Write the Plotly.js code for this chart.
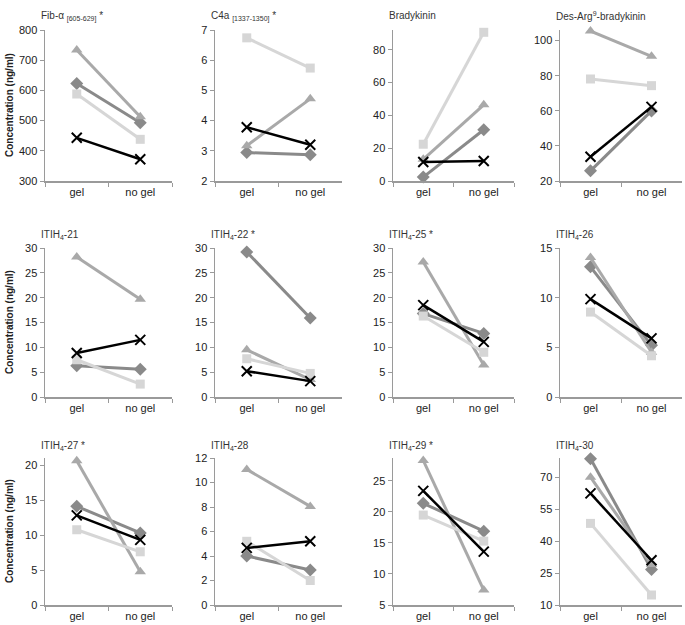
<!DOCTYPE html>
<html>
<head>
<meta charset="utf-8">
<script src="https://cdn.plot.ly/plotly-3.0.1.min.js"></script>
<style>html,body{margin:0;padding:0;background:#fff}#chart{width:685px;height:625px}</style>
</head>
<body>
<div id="chart"></div>
<script>
// ---- data ----
const categories = ['gel', 'no gel'];
const panelTitles = [
  'Fib-α <sub>[605-629]</sub> *', 'C4a <sub>[1337-1350]</sub> *', 'Bradykinin', 'Des-Arg<sup>9</sup>-bradykinin',
  'ITIH<sub>4</sub>-21', 'ITIH<sub>4</sub>-22 *', 'ITIH<sub>4</sub>-25 *', 'ITIH<sub>4</sub>-26',
  'ITIH<sub>4</sub>-27 *', 'ITIH<sub>4</sub>-28', 'ITIH<sub>4</sub>-29 *', 'ITIH<sub>4</sub>-30'
];
const diamondGel    = [623, 2.94, 2.4, 25.8, 6.3, 29.2, 16.8, 13.1, 14.1, 4.0, 21.4, 78.7];
const diamondNoGel  = [493, 2.87, 31.2, 59.9, 5.6, 15.9, 12.8, 5.2, 10.3, 2.86, 16.9, 26.7];
const triangleGel   = [734, 3.17, 13.2, 105.4, 28.2, 9.5, 27.2, 14.05, 20.6, 11.07, 28.3, 70];
const triangleNoGel = [513, 4.72, 46.4, 91, 19.7, 3.5, 6.45, 4.5, 4.75, 8.05, 7.4, 29];
const squareGel     = [588, 6.74, 22.4, 78.1, 7.5, 7.7, 16.3, 8.55, 10.75, 5.2, 19.5, 48.3];
const squareNoGel   = [438, 5.74, 90.6, 74.3, 2.6, 4.75, 9.0, 4.15, 7.6, 2.0, 15.3, 14.7];
const crossGel      = [443, 3.78, 11.6, 33.8, 8.86, 5.2, 18.5, 9.85, 12.8, 4.66, 23.4, 62.4];
const crossNoGel    = [372, 3.2, 12.2, 62.2, 11.5, 3.2, 11.1, 5.9, 9.3, 5.2, 13.6, 31];
const yMin  = [300, 2, 0, 20, 0, 0, 0, 0, 0, 0, 5, 10];
const yMax  = [800, 7, 92, 106, 30, 30, 30, 15, 21, 12, 28.7, 79];
const yStep = [100, 1, 20, 20, 5, 5, 5, 5, 5, 2, 5, 15];
const yAxisTitle = 'Concentration (ng/ml)';

// ---- layout geometry (pixels) ----
const W = 685, H = 625;
const colX = [[45, 172], [215, 342], [393, 514], [560, 682]];
const rowY = [[30, 181], [248, 397], [458, 605]];
const titleY = [8, 227, 438];

const series = [
  {gel: diamondGel, nogel: diamondNoGel, color: '#8a8a8a', symbol: 'diamond', size: 10, lw: 3},
  {gel: triangleGel, nogel: triangleNoGel, color: '#a9a9a9', symbol: 'triangle-up', size: 10, lw: 3},
  {gel: squareGel, nogel: squareNoGel, color: '#d6d6d6', symbol: 'square', size: 9, lw: 3},
  {gel: crossGel, nogel: crossNoGel, color: '#000000', symbol: 'x-thin', size: 10, lw: 2.5}
];

const traces = [];
const layout = {
  width: W, height: H,
  margin: {l: 0, r: 0, t: 0, b: 0},
  paper_bgcolor: '#fff', plot_bgcolor: '#fff',
  showlegend: false,
  font: {family: 'Liberation Sans, Arial, sans-serif', size: 11, color: '#222'},
  annotations: []
};

for (let i = 0; i < 12; i++) {
  const r = Math.floor(i / 4), c = i % 4;
  const n = i === 0 ? '' : String(i + 1);
  const xa = 'x' + n, ya = 'y' + n;
  series.forEach(s => {
    traces.push({
      type: 'scatter', mode: 'lines+markers',
      x: categories, y: [s.gel[i], s.nogel[i]],
      xaxis: xa, yaxis: ya,
      line: {color: s.color, width: s.lw},
      marker: s.symbol === 'x-thin'
        ? {symbol: 'x-thin', size: s.size, color: s.color, line: {color: s.color, width: 2}}
        : {symbol: s.symbol, size: s.size, color: s.color},
      hoverinfo: 'skip', cliponaxis: false
    });
  });
  const tv = [];
  for (let v = yMin[i]; v <= yMax[i] + 1e-9; v += yStep[i]) tv.push(v);
  layout['xaxis' + n] = {
    domain: [colX[c][0] / W, colX[c][1] / W], anchor: ya,
    type: 'category', range: [-0.5, 1.5], fixedrange: true,
    showline: true, linecolor: '#9a9a9a', linewidth: 1.5,
    ticks: 'outside', tickson: 'boundaries', ticklen: 4, tickcolor: '#9a9a9a',
    showgrid: false, zeroline: false,
    tickfont: {size: 11, color: '#222'}
  };
  layout['yaxis' + n] = {
    domain: [1 - rowY[r][1] / H, 1 - rowY[r][0] / H], anchor: xa,
    range: [yMin[i], yMax[i]], fixedrange: true,
    tickvals: tv, ticktext: tv.map(v => String(v)),
    showline: true, linecolor: '#9a9a9a', linewidth: 1.5,
    ticks: 'outside', ticklen: 4, tickcolor: '#9a9a9a',
    showgrid: false, zeroline: false,
    tickfont: {size: 11, color: '#222'}
  };
  layout.annotations.push({
    text: panelTitles[i], xref: 'paper', yref: 'paper',
    x: (colX[c][0] - 6) / W, y: 1 - titleY[r] / H,
    xanchor: 'left', yanchor: 'top', showarrow: false,
    font: {size: 10, color: '#333'}
  });
  if (c === 0) {
    layout.annotations.push({
      text: '<b>' + yAxisTitle + '</b>', xref: 'paper', yref: 'paper',
      x: 2 / W, y: 1 - ((rowY[r][0] + rowY[r][1]) / 2) / H,
      xanchor: 'left', yanchor: 'middle', textangle: -90, showarrow: false,
      font: {size: 10, color: '#222'}
    });
  }
}

Plotly.newPlot('chart', traces, layout, {staticPlot: true, displayModeBar: false});
</script>
</body>
</html>
